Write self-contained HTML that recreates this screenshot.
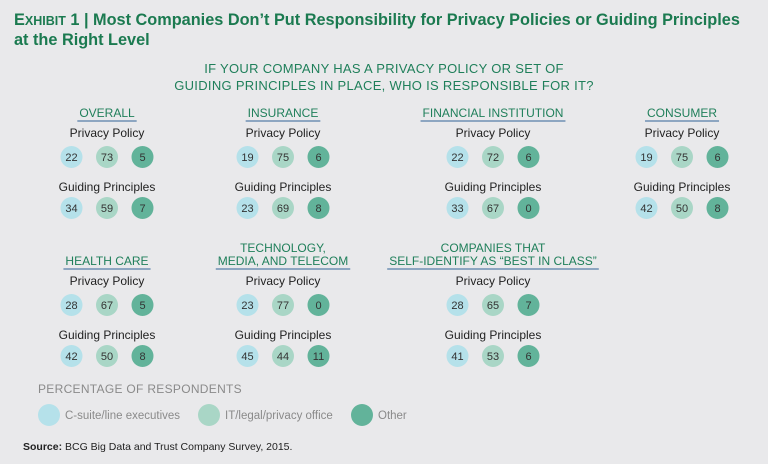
<!DOCTYPE html>
<html><head><meta charset="utf-8"><style>
html,body{margin:0;padding:0;background:#e9e9eb;}
svg{display:block;font-family:"Liberation Sans",sans-serif;}
</style></head><body>
<svg id="chart" width="768" height="464" viewBox="0 0 768 464">
<rect width="768" height="464" fill="#e9e9eb"/>
<text x="14" y="25" font-size="16.3" font-weight="bold" fill="#1b7a50">E<tspan font-size="12.5">XHIBIT</tspan> 1 | Most Companies Don’t Put Responsibility for Privacy Policies or Guiding Principles</text>
<text x="14" y="45" font-size="16.3" font-weight="bold" fill="#1b7a50">at the Right Level</text>
<text x="384" y="73" font-size="13" fill="#1f7f5a" text-anchor="middle" letter-spacing="0.3">IF YOUR COMPANY HAS A PRIVACY POLICY OR SET OF</text>
<text x="384" y="90" font-size="13" fill="#1f7f5a" text-anchor="middle" letter-spacing="0.3">GUIDING PRINCIPLES IN PLACE, WHO IS RESPONSIBLE FOR IT?</text>
<g id="groups"></g>
<text x="38" y="393" font-size="12" fill="#8a8a8a" letter-spacing="0.3">PERCENTAGE OF RESPONDENTS</text>
<g id="legend"></g>
<text x="23" y="450" font-size="10.5" fill="#222"><tspan font-weight="bold">Source:</tspan> BCG Big Data and Trust Company Survey, 2015.</text>
</svg>
<script>
const segments = ["OVERALL","INSURANCE","FINANCIAL INSTITUTION","CONSUMER","HEALTH CARE","TECHNOLOGY,|MEDIA, AND TELECOM","COMPANIES THAT|SELF-IDENTIFY AS “BEST IN CLASS”"];
const privacyValues = [[22,73,5],[19,75,6],[22,72,6],[19,75,6],[28,67,5],[23,77,0],[28,65,7]];
const guidingValues = [[34,59,7],[23,69,8],[33,67,0],[42,50,8],[42,50,8],[45,44,11],[41,53,6]];
const seriesNames = ["C-suite/line executives","IT/legal/privacy office","Other"];
const colors = ["#b5e1ea","#a9d6c6","#62b39a"];
const cx = [107,283,493,682,107,283,493];
const rowY = [0,0,0,0,148,148,148];
const NS="http://www.w3.org/2000/svg";
function mk(tag,attrs,parent){const e=document.createElementNS(NS,tag);for(const k in attrs)e.setAttribute(k,attrs[k]);parent.appendChild(e);return e;}
const G=document.getElementById('groups');
segments.forEach((s,i)=>{
  const g=mk('g',{},G);
  
  
  const dy=rowY[i], x=cx[i];
  const lines=s.split('|');
  let w=0;
  lines.forEach((l,j)=>{
    const t=mk('text',{x:x,y:117+dy-(lines.length-1-j)*13,'font-size':12,fill:'#1f7f5a','text-anchor':'middle'},g);
    t.textContent=l;
    
    
    w=Math.max(w,t.getComputedTextLength());
  });
  const ul=mk('line',{x1:x-w/2-2,x2:x+w/2+2,y1:121+dy,y2:121+dy,stroke:'#6f8fb3','stroke-width':1.5},g);
  
  
  [[privacyValues[i],'Privacy Policy',137,157],[guidingValues[i],'Guiding Principles',191,208]].forEach(([vals,lab,ly,cy])=>{
    const t=mk('text',{x:x,y:ly+dy,'font-size':12,fill:'#222','text-anchor':'middle'},g);
    t.textContent=lab;
    
    
    vals.forEach((v,k)=>{
      const px=x+(k-1)*35.5;
      const c=mk('circle',{cx:px,cy:cy+dy,r:11,fill:colors[k]},g);
      
      
      const vt=mk('text',{x:px,y:cy+dy+4,'font-size':11,fill:'#333','text-anchor':'middle'},g);
      vt.textContent=v;
      
      
    });
  });
});
const L=document.getElementById('legend');
const lx=[49,209,362];
seriesNames.forEach((n,k)=>{
  const c=mk('circle',{cx:lx[k],cy:415,r:11,fill:colors[k]},L);
  
  
  const t=mk('text',{x:lx[k]+16,y:419,'font-size':11.5,fill:'#8a8a8a'},L);
  t.textContent=n;
  
  
});
</script>
</body></html>
